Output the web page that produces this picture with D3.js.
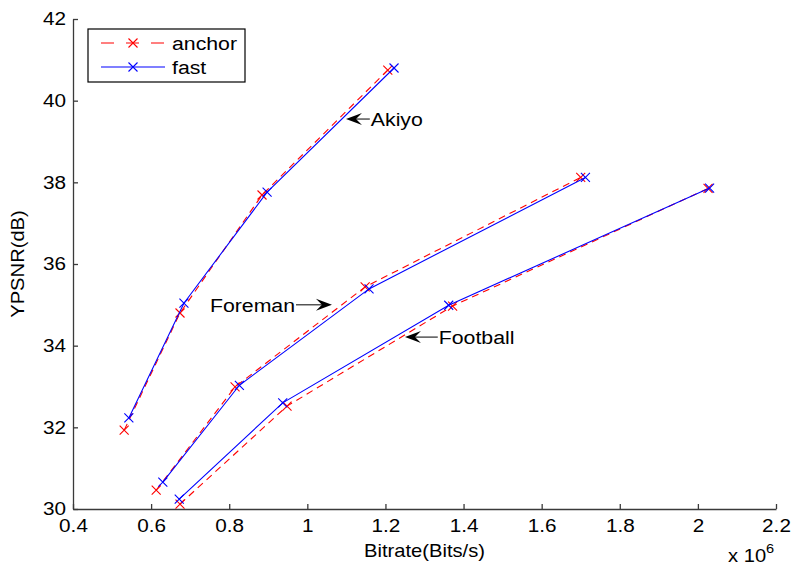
<!DOCTYPE html>
<html>
<head>
<meta charset="utf-8">
<script src="https://cdn.jsdelivr.net/npm/d3@7"></script>
<style>
  body { margin: 0; background: #fff; }
  text { font-family: "Liberation Sans", Arial, sans-serif; fill: #000; }
</style>
</head>
<body>
<div class="chart"></div>
<script>
// bitrate in units of 1e6 bits/s, psnr in dB
const akiyoAnchorRate = [0.531, 0.674, 0.884, 1.206]
const akiyoAnchorPsnr = [31.93, 34.80, 37.69, 40.75]
const akiyoFastRate = [0.543, 0.684, 0.897, 1.222]
const akiyoFastPsnr = [32.23, 35.04, 37.76, 40.80]

const foremanAnchorRate = [0.613, 0.815, 1.148, 1.700]
const foremanAnchorPsnr = [30.46, 32.99, 35.44, 38.12]
const foremanFastRate = [0.630, 0.826, 1.158, 1.712]
const foremanFastPsnr = [30.66, 33.03, 35.39, 38.12]

const footballAnchorRate = [0.674, 0.948, 1.372, 2.026]
const footballAnchorPsnr = [30.12, 32.52, 34.97, 37.85]
const footballFastRate = [0.672, 0.937, 1.362, 2.030]
const footballFastPsnr = [30.24, 32.60, 34.99, 37.86]

const xTicks = [0.4, 0.6, 0.8, 1, 1.2, 1.4, 1.6, 1.8, 2, 2.2]
const yTicks = [30, 32, 34, 36, 38, 40, 42]
const legendNames = ["anchor", "fast"]

// annotation: label, arrow tail x, arrow tip x, y (data units)
const notes = [
  {label: "Akiyo", tail: 1.160, tip: 1.099, y: 39.55, side: "right"},
  {label: "Foreman", tail: 0.971, tip: 1.063, y: 35.0, side: "left"},
  {label: "Football", tail: 1.334, tip: 1.250, y: 34.21, side: "right"}
]

const SX = 1.12 // text horizontal stretch of the original picture

const margin = {top: 19, left: 73, right: 20, bottom: 58}
const width = 796 - margin.left - margin.right
const height = 567 - margin.top - margin.bottom

const svg = d3.select(".chart").append("svg")
    .attr("width", 796)
    .attr("height", 567)
    .append("g")
    .attr("transform", "translate(" + margin.left + "," + margin.top + ")")

const xScale = d3.scaleLinear().domain([0.4, 2.2]).range([0, width])
const yScale = d3.scaleLinear().domain([30, 42]).range([height, 0])

function stretch(sel) {
  sel.each(function() {
    const t = d3.select(this)
    const x = +t.attr("x") || 0, y = +t.attr("y") || 0
    t.attr("x", 0).attr("y", 0)
     .attr("transform", `translate(${x},${y}) scale(${SX},1)`)
  })
}

// axes, ticks pointing inward
const xAxis = d3.axisBottom(xScale).tickValues(xTicks)
    .tickFormat(d3.format("~g")).tickSizeInner(-5).tickSizeOuter(0).tickPadding(10)
const yAxis = d3.axisLeft(yScale).tickValues(yTicks)
    .tickSizeInner(-5).tickSizeOuter(0).tickPadding(7)

const gx = svg.append("g").attr("class", "axis x-axis")
    .attr("transform", `translate(0, ${height})`).call(xAxis)
const gy = svg.append("g").attr("class", "axis y-axis").call(yAxis)

svg.selectAll(".axis path, .axis line").attr("stroke", "#3a3a3a").attr("stroke-width", 1.3)
svg.selectAll(".axis text").attr("font-size", 18.5).attr("fill", "#000")
    .style("font-family", '"Liberation Sans", Arial, sans-serif')
stretch(svg.selectAll(".axis text"))

// axis titles
svg.append("text")
    .attr("x", width / 2).attr("y", height + 48)
    .attr("text-anchor", "middle").attr("font-size", 18)
    .text("Bitrate(Bits/s)")
    .call(stretch)

svg.append("text")
    .attr("transform", `translate(${-49},${height / 2}) rotate(-90) scale(${SX},1)`)
    .attr("text-anchor", "middle").attr("font-size", 18)
    .text("YPSNR(dB)")

const expo = svg.append("text")
    .attr("transform", `translate(${width - 48},${height + 53}) scale(${SX},1)`)
    .attr("font-size", 18)
expo.append("tspan").text("x 10")
expo.append("tspan").attr("font-size", 13).attr("dy", -9).text("6")

// curves
const curves = [
  {rate: akiyoAnchorRate, psnr: akiyoAnchorPsnr, kind: "anchor"},
  {rate: akiyoFastRate, psnr: akiyoFastPsnr, kind: "fast"},
  {rate: foremanAnchorRate, psnr: foremanAnchorPsnr, kind: "anchor"},
  {rate: foremanFastRate, psnr: foremanFastPsnr, kind: "fast"},
  {rate: footballAnchorRate, psnr: footballAnchorPsnr, kind: "anchor"},
  {rate: footballFastRate, psnr: footballFastPsnr, kind: "fast"}
]
const color = {anchor: "#ff0000", fast: "#0000ff"}
const dash = {anchor: "7,5", fast: null}

const line = d3.line().x(d => xScale(d[0])).y(d => yScale(d[1]))
const M = 4.5
const cross = (x, y) => `M${x - M},${y - M}L${x + M},${y + M}M${x - M},${y + M}L${x + M},${y - M}`

curves.forEach(c => {
  const pts = c.rate.map((r, i) => [r, c.psnr[i]])
  svg.append("path")
      .attr("d", line(pts))
      .attr("fill", "none")
      .attr("stroke", color[c.kind])
      .attr("stroke-width", 1.1)
      .attr("stroke-dasharray", dash[c.kind])
  svg.selectAll(null).data(pts).enter().append("path")
      .attr("d", d => cross(xScale(d[0]), yScale(d[1])))
      .attr("stroke", color[c.kind])
      .attr("stroke-width", 1.1)
      .attr("fill", "none")
})

// annotations with arrows
notes.forEach(n => {
  const xt = xScale(n.tail), xh = xScale(n.tip), y = yScale(n.y)
  const dir = xh > xt ? 1 : -1
  svg.append("line")
      .attr("x1", xt).attr("y1", y).attr("x2", xh - dir * 9).attr("y2", y)
      .attr("stroke", "#000").attr("stroke-width", 1)
  svg.append("path")
      .attr("d", `M${xh},${y}L${xh - dir * 16},${y - 6}L${xh - dir * 10},${y}L${xh - dir * 16},${y + 6}Z`)
      .attr("fill", "#000")
  svg.append("text")
      .attr("x", n.side === "right" ? xt + 1 : xt - 1)
      .attr("y", y + 7)
      .attr("text-anchor", n.side === "right" ? "start" : "end")
      .attr("font-size", 19)
      .text(n.label)
      .call(stretch)
})

// legend
const lg = svg.append("g").attr("transform", "translate(15,10)")
lg.append("rect").attr("width", 157).attr("height", 53)
    .attr("fill", "#fff").attr("stroke", "#000").attr("stroke-width", 1.2)
legendNames.forEach((name, i) => {
  const y = 14 + i * 24
  lg.append("line").attr("x1", 13).attr("x2", 77).attr("y1", y).attr("y2", y)
      .attr("stroke", color[name]).attr("stroke-width", 1.1)
      .attr("stroke-dasharray", name === "anchor" ? "13,12" : null)
  lg.append("path").attr("d", cross(45, y))
      .attr("stroke", color[name]).attr("stroke-width", 1.1).attr("fill", "none")
  lg.append("text").attr("x", 84).attr("y", y + 7)
      .attr("font-size", 19).text(name)
      .call(stretch)
})
</script>
</body>
</html>
